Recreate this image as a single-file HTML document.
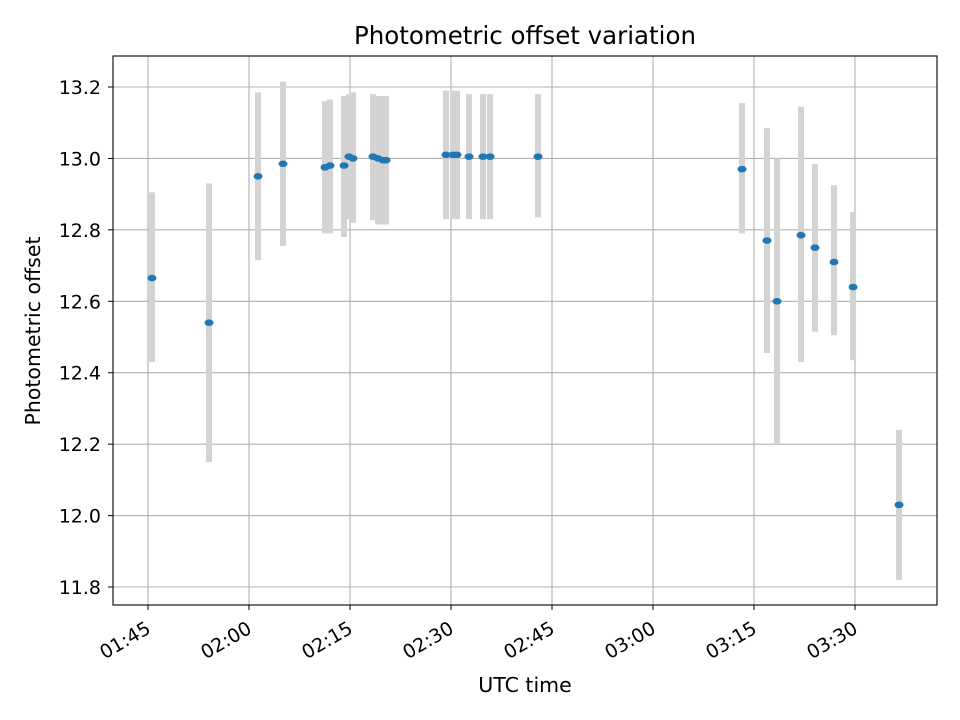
<!DOCTYPE html>
<html><head><meta charset="utf-8"><style>
html,body{margin:0;padding:0;background:#fff;}
svg{display:block;font-family:"DejaVu Sans","Liberation Sans",sans-serif;}
</style></head><body>
<svg id="chart" width="960" height="720" viewBox="0 0 960 720" xmlns="http://www.w3.org/2000/svg">
<rect width="960" height="720" fill="#fff"/>
<g id="grid"></g>
<g id="bars"></g>
<g id="points"></g>
<rect x="113" y="56" width="824" height="549" fill="none" stroke="#000" stroke-width="1.1"/>
<g id="xticks"></g>
<g id="yticks"></g>
<text x="525" y="44" text-anchor="middle" font-size="24.5">Photometric offset variation</text>
<text x="525" y="692" text-anchor="middle" font-size="20.5">UTC time</text>
<text x="40" y="331" text-anchor="middle" font-size="20.5" transform="rotate(-90 40 331)">Photometric offset</text>
</svg>
<script>
// minutes after 01:45 UTC
const times = [0.59,9.06,16.34,20.05,26.29,27.03,29.11,29.85,30.45,33.42,34.16,34.90,35.35,44.26,45.30,45.89,47.68,49.75,50.80,57.92,88.22,91.93,93.42,96.98,99.06,101.88,104.71,111.54];
const offsets = [12.665,12.54,12.95,12.985,12.975,12.98,12.98,13.005,13.0,13.005,13.0,12.995,12.995,13.01,13.01,13.01,13.005,13.005,13.005,13.005,12.97,12.77,12.60,12.785,12.75,12.71,12.64,12.03];
const lowers = [12.43,12.15,12.715,12.755,12.79,12.79,12.78,12.83,12.82,12.827,12.815,12.815,12.815,12.83,12.83,12.83,12.83,12.83,12.83,12.835,12.79,12.455,12.2,12.43,12.515,12.505,12.435,11.82];
const uppers = [12.905,12.93,13.185,13.215,13.16,13.165,13.175,13.18,13.185,13.18,13.175,13.175,13.175,13.19,13.19,13.19,13.18,13.18,13.18,13.18,13.155,13.085,13.0,13.145,12.985,12.925,12.85,12.24];
const xTickMins = [0,15,30,45,60,75,90,105];
const xTickLabels = ["01:45","02:00","02:15","02:30","02:45","03:00","03:15","03:30"];
const yTicks = [11.8,12.0,12.2,12.4,12.6,12.8,13.0,13.2];

const NS="http://www.w3.org/2000/svg";
function xs(m){return 148+m*(101/15);}
function ys(v){return 587-(v-11.8)*(500/1.4);}
function mk(tag,attrs,parent){const e=document.createElementNS(NS,tag);for(const k in attrs)e.setAttribute(k,attrs[k]);parent.appendChild(e);return e;}
const grid=document.getElementById('grid'),bars=document.getElementById('bars'),pts=document.getElementById('points'),xt=document.getElementById('xticks'),yt=document.getElementById('yticks');
xTickMins.forEach((m,i)=>{
  const x=xs(m);
  const g=mk('line',{x1:x,x2:x,y1:56,y2:605,stroke:'#b0b0b0','stroke-width':1.1},grid);
  
  
  const t=mk('line',{x1:x,x2:x,y1:605,y2:610,stroke:'#000','stroke-width':1},xt);
  
  
  const l=mk('text',{x:0,y:14,'font-size':19,'text-anchor':'end',transform:`translate(${x-3} 620) rotate(-30)`},xt);
  l.textContent=xTickLabels[i];
  
  
});
yTicks.forEach(v=>{
  const y=ys(v);
  const g=mk('line',{x1:113,x2:937,y1:y,y2:y,stroke:'#b0b0b0','stroke-width':1.1},grid);
  
  
  const t=mk('line',{x1:108,x2:113,y1:y,y2:y,stroke:'#000','stroke-width':1},yt);
  
  
  const l=mk('text',{x:101,y:y+7,'font-size':19,'text-anchor':'end'},yt);
  l.textContent=v.toFixed(1);
  
  
});
times.forEach((m,i)=>{
  const x=xs(m);
  const b=mk('rect',{x:x-3,width:6,y:ys(uppers[i]),height:ys(lowers[i])-ys(uppers[i]),fill:'#d3d3d3'},bars);
  
  
  const p=mk('ellipse',{cx:x,cy:ys(offsets[i]),rx:4.5,ry:3.3,fill:'#1f77b4'},pts);
  
  
});
</script>
</body></html>
